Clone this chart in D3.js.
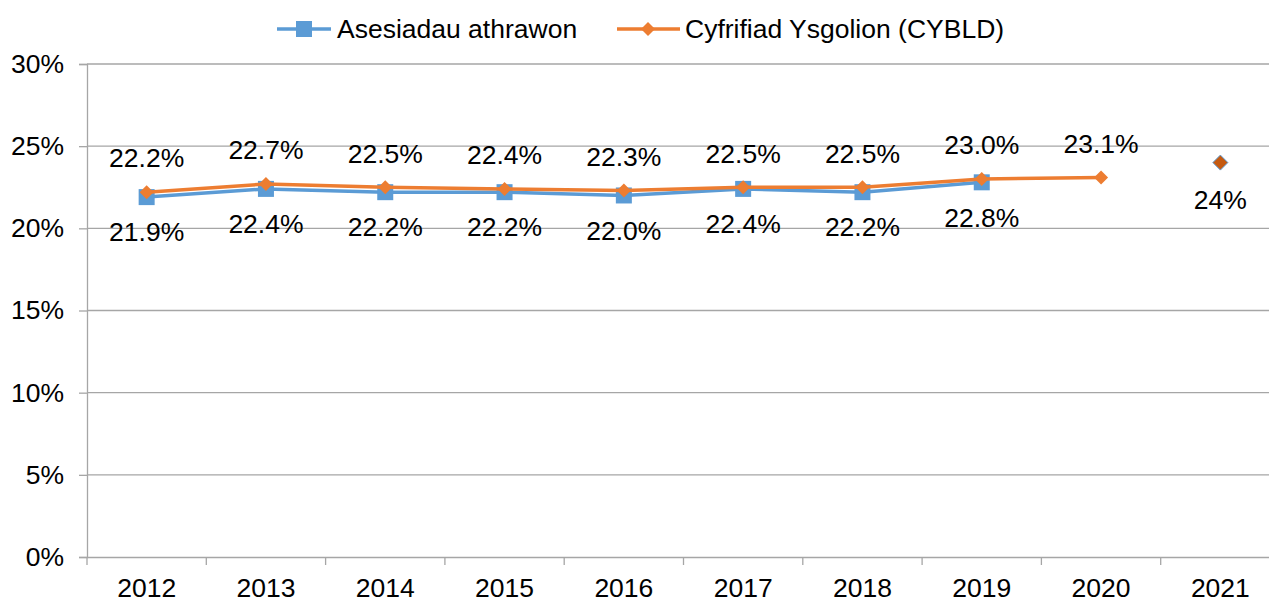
<!DOCTYPE html>
<html><head><meta charset="utf-8">
<script src="https://cdn.jsdelivr.net/npm/d3@7"></script>
<style>
html,body{margin:0;padding:0;background:#fff;overflow:hidden}
text{font-family:"Liberation Sans",Arial,sans-serif;fill:#000}
</style></head><body>
<svg id="chart" width="1269" height="602"></svg>
<script>
const years = ["2012","2013","2014","2015","2016","2017","2018","2019","2020","2021"];
const teacherValues = [21.9,22.4,22.2,22.2,22.0,22.4,22.2,22.8,null,null];
const censusValues = [22.2,22.7,22.5,22.4,22.3,22.5,22.5,23.0,23.1,null];
const census2021Values = [null,null,null,null,null,null,null,null,null,24];
const yTicks = [0,5,10,15,20,25,30];
const seriesNames = ["Asesiadau athrawon","Cyfrifiad Ysgolion (CYBLD)"];

const svg = d3.select("#chart");
const mLeft = 87, mRight = 1280, mTop = 64, mBottom = 557;
const x = d3.scaleBand().domain(years).range([mLeft, mRight]);
const y = d3.scaleLinear().domain([0,30]).range([mBottom, mTop]);
const blue = "#5b9bd5", orange = "#ed7d31";
const fs = 26.5;

// gridlines
svg.append("g").selectAll("line").data(yTicks.filter(d=>d>0)).join("line")
  .attr("x1", mLeft).attr("x2", mRight).attr("y1", d=>y(d)).attr("y2", d=>y(d))
  .attr("stroke", "#a6a6a6").attr("stroke-width", 1.3);

// y axis
const yAxis = svg.append("g").attr("transform", `translate(${mLeft},0)`)
  .call(d3.axisLeft(y).tickValues(yTicks).tickFormat(d=>d+"%").tickSize(8).tickPadding(15));
yAxis.select(".domain").attr("stroke", "#a6a6a6").attr("stroke-width", 1.3);
yAxis.selectAll(".tick line").attr("stroke", "#a6a6a6").attr("stroke-width", 1.3);
yAxis.selectAll("text").attr("font-size", fs).attr("font-family", "Liberation Sans, Arial, sans-serif").attr("fill", "#000");

// x axis
const xAxis = svg.append("g").attr("transform", `translate(0,${mBottom})`)
  .call(d3.axisBottom(x).tickSize(0).tickPadding(21));
xAxis.select(".domain").attr("stroke", "#a6a6a6").attr("stroke-width", 1.3);
xAxis.selectAll("text").attr("font-size", fs).attr("font-family", "Liberation Sans, Arial, sans-serif").attr("fill", "#000");
svg.append("g").selectAll("line").data(years).join("line")
  .attr("x1", d=>x(d)).attr("x2", d=>x(d)).attr("y1", mBottom).attr("y2", mBottom+8)
  .attr("stroke", "#a6a6a6").attr("stroke-width", 1.3);

const cx = d => x(d) + x.bandwidth()/2;
const line = d3.line().defined(d=>d[1]!=null).x(d=>cx(d[0])).y(d=>y(d[1]));

// blue series
const tData = years.map((yr,i)=>[yr, teacherValues[i]]);
svg.append("path").datum(tData).attr("d", line).attr("fill","none").attr("stroke", blue).attr("stroke-width", 3.5);
svg.append("g").selectAll("rect").data(tData.filter(d=>d[1]!=null)).join("rect")
  .attr("x", d=>cx(d[0])-8).attr("y", d=>y(d[1])-8).attr("width",16).attr("height",16).attr("fill", blue);

// orange series
const cData = years.map((yr,i)=>[yr, censusValues[i]]);
svg.append("path").datum(cData).attr("d", line).attr("fill","none").attr("stroke", orange).attr("stroke-width", 3.5);
const diamond = (px,py,r) => `M${px},${py-r}L${px+r},${py}L${px},${py+r}L${px-r},${py}Z`;
svg.append("g").selectAll("path").data(cData.filter(d=>d[1]!=null)).join("path")
  .attr("d", d=>diamond(cx(d[0]), y(d[1]), 7)).attr("fill", orange);

// 2021 separate point
const c21 = years.map((yr,i)=>[yr, census2021Values[i]]).filter(d=>d[1]!=null);
svg.append("g").selectAll("path").data(c21).join("path")
  .attr("d", d=>diamond(cx(d[0]), y(d[1]), 7.5)).attr("fill", "#c55a11").attr("stroke", blue).attr("stroke-width", 1);

// labels
svg.append("g").selectAll("text").data(tData.filter(d=>d[1]!=null)).join("text")
  .attr("x", d=>cx(d[0])).attr("y", d=>y(d[1])+35).attr("dy","0.35em")
  .attr("text-anchor","middle").attr("font-size", fs).text(d=>d[1].toFixed(1)+"%");
svg.append("g").selectAll("text").data(cData.filter(d=>d[1]!=null)).join("text")
  .attr("x", d=>cx(d[0])).attr("y", d=>y(d[1])-34).attr("dy","0.35em")
  .attr("text-anchor","middle").attr("font-size", fs).text(d=>d[1].toFixed(1)+"%");
svg.append("g").selectAll("text").data(c21).join("text")
  .attr("x", d=>cx(d[0])).attr("y", d=>y(d[1])+37).attr("dy","0.35em")
  .attr("text-anchor","middle").attr("font-size", fs).text(d=>d[1]+"%");

// legend
const lg = svg.append("g");
lg.append("line").attr("x1",277).attr("x2",331).attr("y1",29).attr("y2",29).attr("stroke",blue).attr("stroke-width",3.5);
lg.append("rect").attr("x",296).attr("y",21).attr("width",16).attr("height",16).attr("fill",blue);
lg.append("text").attr("x",337).attr("y",29).attr("dy","0.35em").attr("font-size",fs).text(seriesNames[0]);
lg.append("line").attr("x1",617).attr("x2",680).attr("y1",29).attr("y2",29).attr("stroke",orange).attr("stroke-width",3.5);
lg.append("path").attr("d", diamond(648,29,7)).attr("fill",orange);
lg.append("text").attr("x",685).attr("y",29).attr("dy","0.35em").attr("font-size",fs).text(seriesNames[1]);
</script></body></html>
